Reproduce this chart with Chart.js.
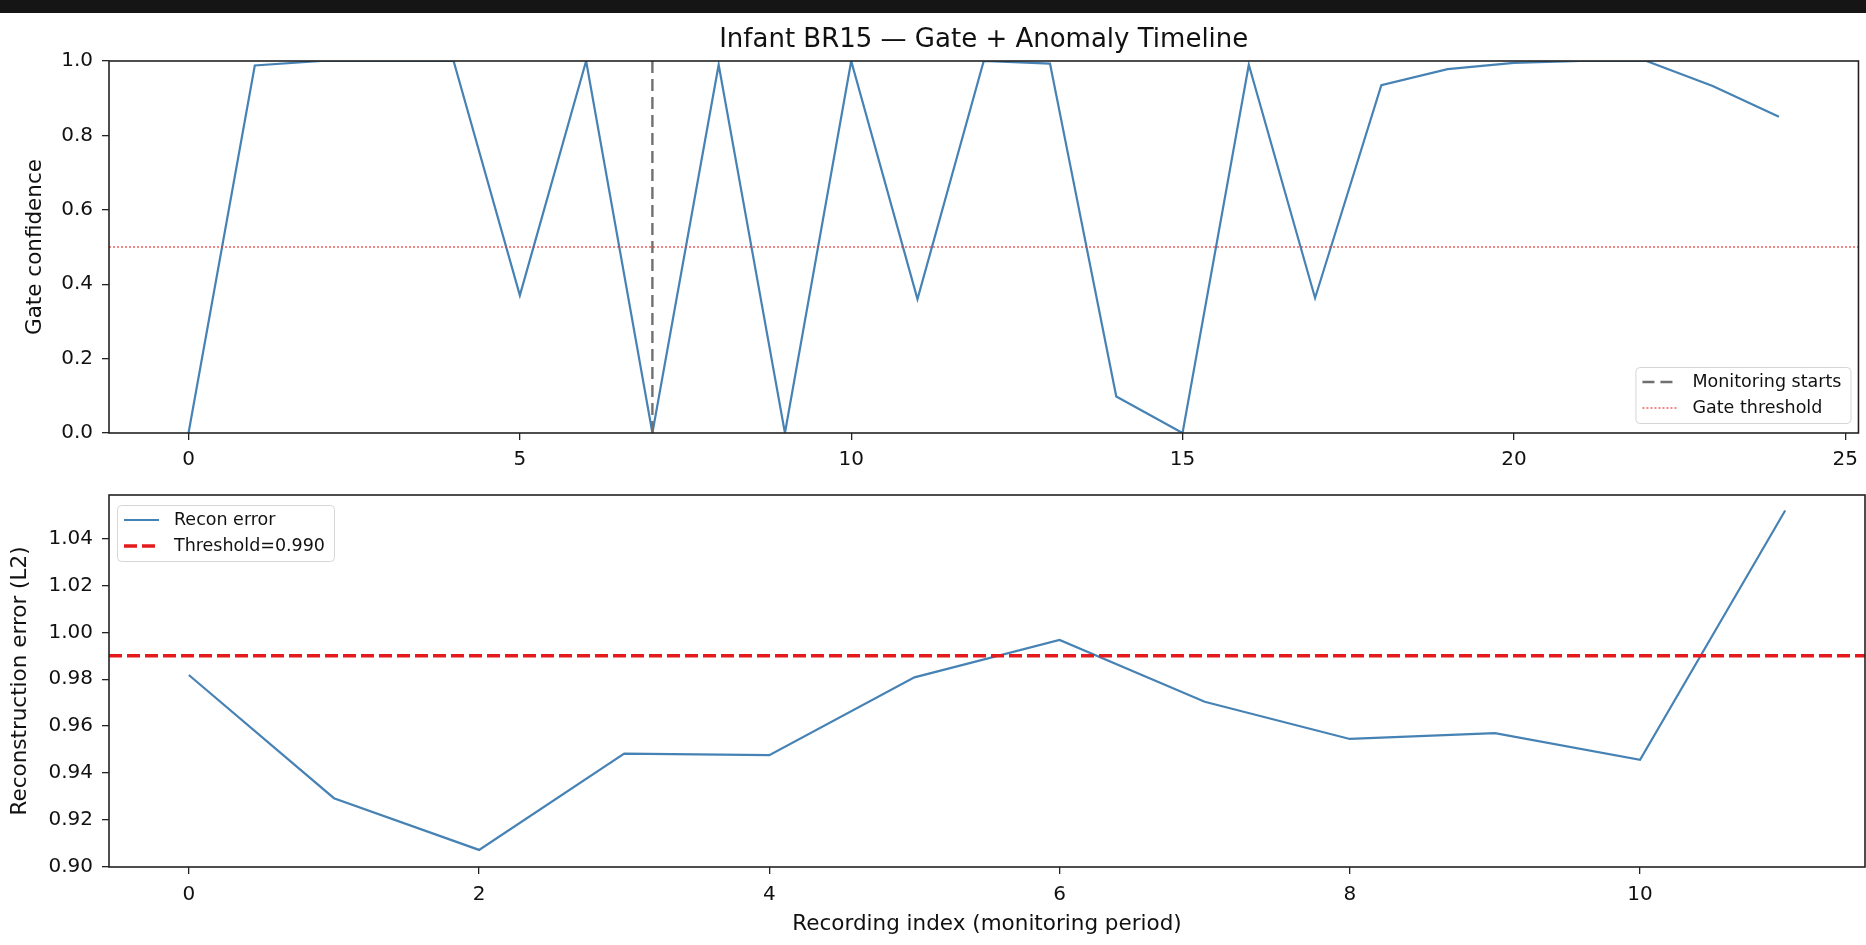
<!DOCTYPE html>
<html>
<head>
<meta charset="utf-8">
<script src="https://cdn.jsdelivr.net/npm/chart.js@4.4.1/dist/chart.umd.min.js"></script>
<style>
  html, body { margin: 0; padding: 0; background: #fff; overflow: hidden; }
  #bar { position: absolute; left: 0; top: 0; width: 1866px; height: 13px; background: #151515; }
  .box { position: absolute; left: 0; width: 1866px; }
  #top { top: 0; height: 470px; }
  #bottom { top: 470px; height: 475px; }
</style>
</head>
<body>
<div class="box" id="top"><canvas id="gateChart" width="1866" height="470"></canvas></div>
<div class="box" id="bottom"><canvas id="reconChart" width="1866" height="475"></canvas></div>
<div id="bar"></div>
<script>
// top panel: gate confidence per recording
const gateRec = [0, 1, 2, 3, 4, 5, 6, 7, 8, 9, 10, 11, 12, 13, 14, 15, 16, 17, 18, 19, 20, 21, 22, 23, 24];
const gateConf = [0.0, 0.988, 1.0, 1.0, 1.0, 0.37, 1.0, 0.0, 0.99, 0.0, 1.0, 0.36, 1.0, 0.993, 0.098, 0.0, 0.99, 0.363, 0.935, 0.978, 0.995, 1.0, 1.0, 0.933, 0.85];
const monitorStart = 7;
const gateThreshold = 0.5;
const gateXTicks = [0, 5, 10, 15, 20, 25];
const gateYTicks = [0.0, 0.2, 0.4, 0.6, 0.8, 1.0];

// bottom panel: reconstruction error during monitoring
const reconRec = [0, 1, 2, 3, 4, 5, 6, 7, 8, 9, 10, 11];
const reconErr = [0.9818, 0.9292, 0.9071, 0.9482, 0.9476, 0.9808, 0.9968, 0.9704, 0.9545, 0.957, 0.9456, 1.0521];
const reconThreshold = 0.99;
const reconXTicks = [0, 2, 4, 6, 8, 10];
const reconYTicks = [0.90, 0.92, 0.94, 0.96, 0.98, 1.00, 1.02, 1.04];

const blue = "#4682b4";
const ink = "#111";
const tickSize = 20;
const labelSize = 21.5;

Chart.defaults.font.family = "'DejaVu Sans', sans-serif";
Chart.defaults.color = ink;

// matplotlib-like box round the plot area
const frame = {
  id: "frame",
  afterDatasetsDraw(chart) {
    const a = chart.chartArea;
    const ctx = chart.ctx;
    ctx.save();
    ctx.strokeStyle = "#222";
    ctx.lineWidth = 1.6;
    ctx.strokeRect(a.left, a.top, a.right - a.left, a.bottom - a.top);
    ctx.restore();
  }
};

// legend drawn inside the axes, like loc="lower right" / "upper left"
const boxLegend = {
  id: "boxLegend",
  afterDraw(chart, args, opts) {
    if (!opts.items) return;
    const ctx = chart.ctx;
    const a = chart.chartArea;
    ctx.save();
    ctx.font = "17.5px 'DejaVu Sans'";
    const items = opts.items.map(i => chart.data.datasets[i]);
    const textW = Math.max(...items.map(d => ctx.measureText(d.label).width));
    const w = 57 + textW + 9;
    const h = 56;
    const x = opts.corner === "lr" ? a.right - 8 - w : a.left + 8;
    const y = opts.corner === "lr" ? a.bottom - 10 - h : a.top + 10;
    ctx.fillStyle = "rgba(255,255,255,0.85)";
    ctx.strokeStyle = "#d6d6d6";
    ctx.lineWidth = 1;
    ctx.beginPath();
    ctx.roundRect(x + 0.5, y + 0.5, w, h, 4);
    ctx.fill();
    ctx.stroke();
    items.forEach((d, k) => {
      const cy = y + 15 + k * 26;
      ctx.strokeStyle = d.borderColor;
      ctx.lineWidth = d.borderWidth;
      ctx.setLineDash(d.borderDash || []);
      ctx.beginPath();
      ctx.moveTo(x + 7, cy);
      ctx.lineTo(x + 42, cy);
      ctx.stroke();
      ctx.setLineDash([]);
      ctx.fillStyle = ink;
      ctx.textBaseline = "middle";
      ctx.fillText(d.label, x + 57, cy);
    });
    ctx.restore();
  }
};

const tickGrid = { drawOnChartArea: false, drawTicks: true, tickLength: 7, color: "#222", lineWidth: 1.3 };

const gateXMin = -1.2, gateXMax = 25.2;
new Chart(document.getElementById("gateChart"), {
  type: "scatter",
  data: {
    datasets: [
      {
        label: "Gate confidence",
        data: gateRec.map((r, i) => ({ x: r, y: gateConf[i] })),
        showLine: true, borderColor: blue, borderWidth: 2.2, pointRadius: 0, order: 2
      },
      {
        label: "Monitoring starts",
        data: [{ x: monitorStart, y: 0 }, { x: monitorStart, y: 1 }],
        showLine: true, borderColor: "#707070", borderWidth: 2.4, borderDash: [12, 6], pointRadius: 0, order: 1
      },
      {
        label: "Gate threshold",
        data: [{ x: gateXMin, y: gateThreshold }, { x: gateXMax, y: gateThreshold }],
        showLine: true, borderColor: "rgba(230,40,40,0.85)", borderWidth: 1.3, borderDash: [2, 2], pointRadius: 0, order: 0
      }
    ]
  },
  options: {
    responsive: false,
    animation: false,
    events: [],
    layout: { padding: { top: 0, right: 1, left: 0, bottom: 0 } },
    plugins: {
      legend: { display: false },
      tooltip: { enabled: false },
      title: {
        display: true,
        text: "Infant BR15 \u2014 Gate + Anomaly Timeline",
        fullSize: false,
        color: ink,
        font: { size: 26, weight: "normal", lineHeight: 1.2 },
        padding: { top: 24.4, bottom: 5.4 }
      },
      boxLegend: { corner: "lr", items: [1, 2] }
    },
    scales: {
      x: {
        type: "linear",
        min: gateXMin,
        max: gateXMax,
        afterBuildTicks: s => { s.ticks = gateXTicks.map(v => ({ value: v })); },
        afterFit: s => { s.height = 37; },
        ticks: { font: { size: tickSize }, padding: 8, maxRotation: 0, callback: v => String(v) },
        grid: tickGrid,
        border: { display: false }
      },
      y: {
        min: 0,
        max: 1,
        afterBuildTicks: s => { s.ticks = gateYTicks.map(v => ({ value: v })); },
        afterFit: s => { s.width = 109; },
        ticks: { font: { size: tickSize }, padding: 9, callback: v => v.toFixed(1) },
        title: { display: true, text: "Gate confidence", font: { size: labelSize }, padding: { top: 23, bottom: 0 } },
        grid: tickGrid,
        border: { display: false }
      }
    }
  },
  plugins: [frame, boxLegend]
});

const reconXMin = -0.55, reconXMax = 11.55;
new Chart(document.getElementById("reconChart"), {
  type: "scatter",
  data: {
    datasets: [
      {
        label: "Recon error",
        data: reconRec.map((r, i) => ({ x: r, y: reconErr[i] })),
        showLine: true, borderColor: blue, borderWidth: 2.2, pointRadius: 0, order: 1
      },
      {
        label: "Threshold=0.990",
        data: [{ x: reconXMin, y: reconThreshold }, { x: reconXMax, y: reconThreshold }],
        showLine: true, borderColor: "#e41a1c", borderWidth: 3.5, borderDash: [13, 5], pointRadius: 0, order: 0
      }
    ]
  },
  options: {
    responsive: false,
    animation: false,
    events: [],
    layout: { padding: { top: 25, right: 1, left: 0, bottom: 0 } },
    plugins: {
      legend: { display: false },
      tooltip: { enabled: false },
      boxLegend: { corner: "ul", items: [0, 1] }
    },
    scales: {
      x: {
        type: "linear",
        min: reconXMin,
        max: reconXMax,
        afterBuildTicks: s => { s.ticks = reconXTicks.map(v => ({ value: v })); },
        afterFit: s => { s.height = 78; },
        ticks: { font: { size: tickSize }, padding: 9, maxRotation: 0, callback: v => String(v) },
        title: { display: true, text: "Recording index (monitoring period)", font: { size: labelSize }, padding: { top: 0, bottom: 8 } },
        grid: tickGrid,
        border: { display: false }
      },
      y: {
        min: 0.8998,
        max: 1.0587,
        afterBuildTicks: s => { s.ticks = reconYTicks.map(v => ({ value: v })); },
        afterFit: s => { s.width = 109; },
        ticks: { font: { size: tickSize }, padding: 9, callback: v => v.toFixed(2) },
        title: { display: true, text: "Reconstruction error (L2)", font: { size: labelSize }, padding: { top: 8, bottom: 0 } },
        grid: tickGrid,
        border: { display: false }
      }
    }
  },
  plugins: [frame, boxLegend]
});
</script>
</body>
</html>
